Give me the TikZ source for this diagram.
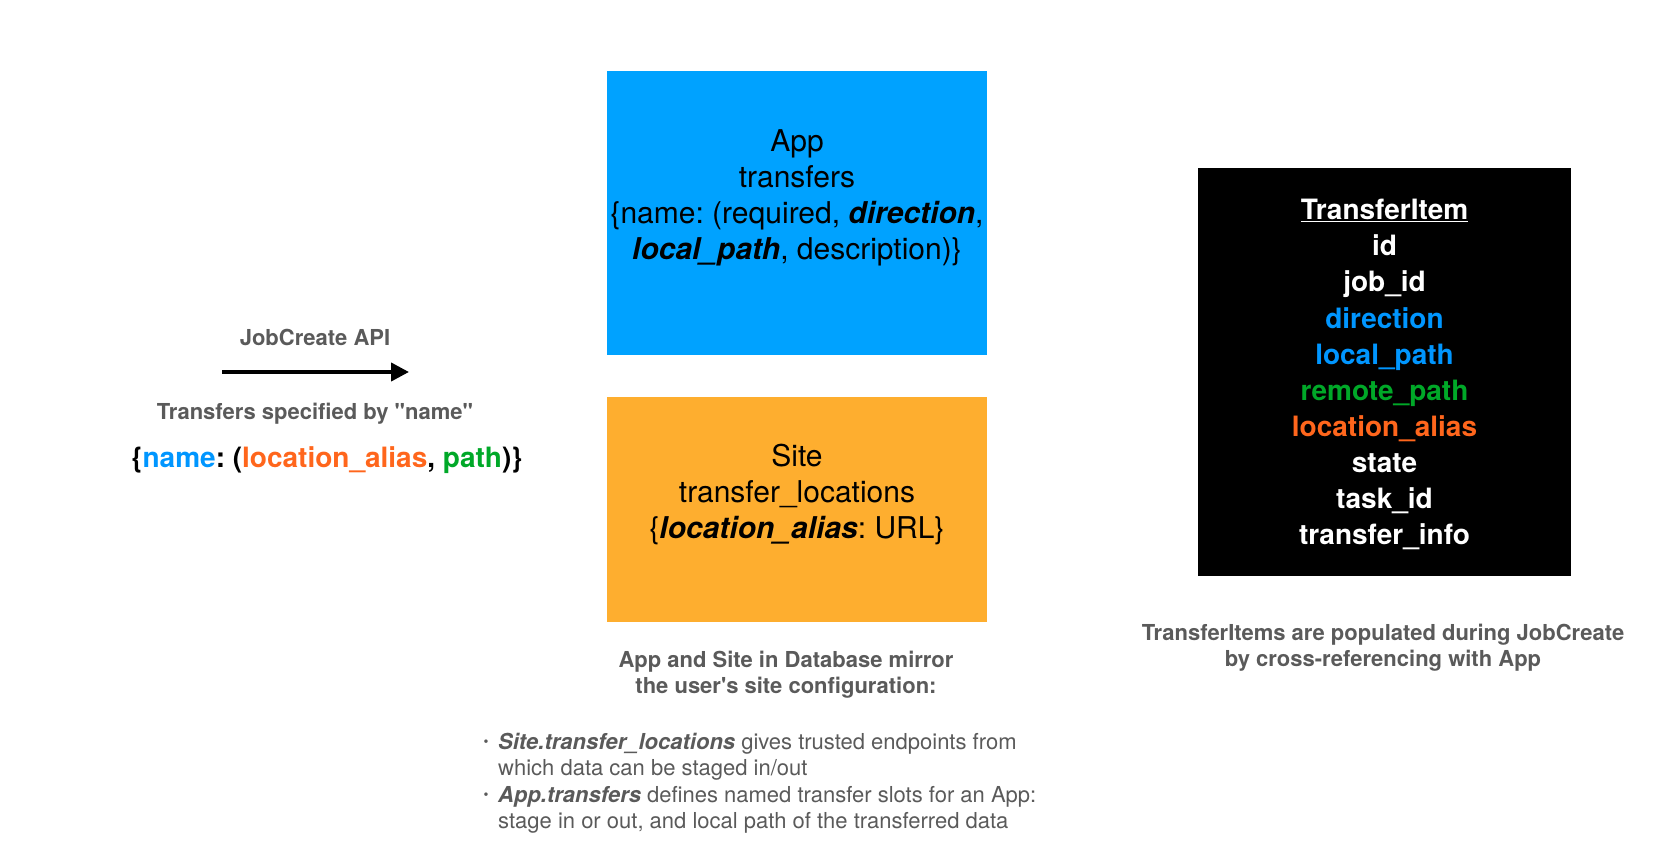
\documentclass[tikz,border=0pt]{standalone}
\usepackage{fontspec}
\setmainfont{TeX Gyre Heros}[Ligatures=TeXOff]
\usetikzlibrary{positioning,arrows.meta}
\definecolor{appblue}{RGB}{0,162,255}
\definecolor{siteorange}{RGB}{254,174,47}
\definecolor{nameblue}{RGB}{0,150,255}
\definecolor{aliasorange}{RGB}{255,102,28}
\definecolor{pathgreen}{RGB}{0,168,40}
\definecolor{notegray}{RGB}{90,90,90}
\frenchspacing
\begin{document}
\begin{tikzpicture}[x=1pt,y=-1pt]
        % Styles
        \tikzstyle{model box}=[minimum width=380pt,inner sep=0pt]
        \tikzstyle{box text}=[align=center,inner sep=0pt,anchor=base,font=\fontsize{30}{36}\selectfont]
        \tikzstyle{item text}=[inner sep=0pt,anchor=base,text=white,font=\fontsize{28}{36}\selectfont\bfseries]
        \tikzstyle{spec text}=[inner sep=0pt,anchor=base,font=\fontsize{28}{34}\selectfont\bfseries]
        \tikzstyle{note}=[align=center,inner sep=0pt,anchor=base,text=notegray,font=\fontsize{22}{26.5}\selectfont\bfseries]
        \tikzstyle{bullet text}=[align=left,inner sep=0pt,anchor=base west,text=notegray,font=\fontsize{22}{26.5}\selectfont]
        \tikzstyle{bullet mark}=[inner sep=0pt,anchor=base,text=notegray,font=\fontsize{14}{16}\selectfont]
        \tikzstyle{api arrow}=[line width=4pt,-{Triangle[length=18pt,width=18pt]}]
        %canvas
        \useasboundingbox (0,0) rectangle (1664,866);
        %boxes
        \node[model box,fill=appblue,minimum height=284pt] (app) at (797,213) {};
        \node[model box,fill=siteorange,minimum height=225pt] (site) at (797,509.5) {};
        \node[model box,fill=black,minimum width=373pt,minimum height=408pt] (items) at (1384.5,372) {};
        %box contents (multi-line nodes sit on their last baseline)
        \node[box text] (app text) at (797,260) {App\\transfers\\\{name: (required, \textbf{\textit{direction}},\\\textbf{\textit{local\_path}}, description)\}};
        \node[box text] (site text) at (797,538) {Site\\transfer\_locations\\\{\textbf{\textit{location\_alias}}: URL\}};
        \node[item text] (item title) at (1384.5,220) {\underline{TransferItem}};
        \foreach \i/\col/\field in {1/white/id,2/white/job\_id,3/nameblue/direction,4/nameblue/local\_path,5/pathgreen/remote\_path,6/aliasorange/location\_alias,7/white/state,8/white/task\_id,9/white/transfer\_info}
            \node[item text,text=\col] (item \i) at (1384.5,220+36*\i) {\field};
        %api
        \node[note] (api label) at (315,345) {JobCreate API};
        \coordinate (api start) at (222,372);
        \coordinate (api end) at (409,372);
        \draw[api arrow] (api start) -- (api end);
        \node[note] (spec label) at (315,419) {Transfers specified by "name"};
        \node[spec text] (spec) at (327,467) {\{\textcolor{nameblue}{name}: (\textcolor{aliasorange}{location\_alias}, \textcolor{pathgreen}{path})\}};
        %notes
        \node[note] (db note) at (786,693.5) {App and Site in Database mirror\\the user's site configuration:};
        \node[bullet text] (db bullets) at (498,828.5) {\textbf{\textit{Site.transfer\_locations}} gives trusted endpoints from\\which data can be staged in/out\\\textbf{\textit{App.transfers}} defines named transfer slots for an App:\\stage in or out, and local path of the transferred data};
        \node[bullet mark] (bullet 1) at (486,746) {\textbullet};
        \node[bullet mark] (bullet 2) at (486,799) {\textbullet};
        \node[note] (items note) at (1383,666.5) {TransferItems are populated during JobCreate\\by cross-referencing with App};
\end{tikzpicture}
\end{document}
